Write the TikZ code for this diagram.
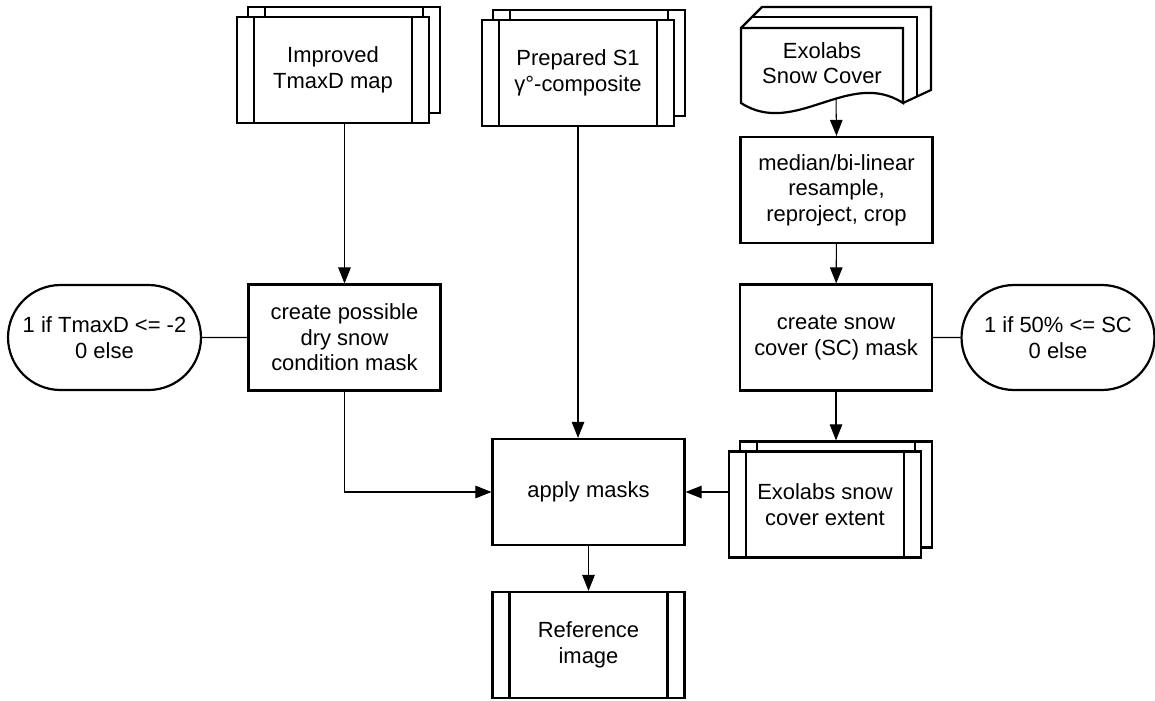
\documentclass[tikz,border=0pt]{standalone}
\usepackage{fontspec}
\setmainfont{Liberation Sans}
\usetikzlibrary{shapes.misc, arrows.meta, calc, positioning}

\tikzset{
    every node/.style={font=\fontsize{12.5}{14.5}\selectfont, align=center},
    box/.style={draw, line width=1.25pt, fill=white, minimum width=3.84cm, minimum height=2.12cm, inner sep=0pt},
    pbox/.style={box, path picture={
        \draw[line width=1.25pt]
            ([xshift=0.34cm]path picture bounding box.north west) -- ([xshift=0.34cm]path picture bounding box.south west)
            ([xshift=-0.34cm]path picture bounding box.north east) -- ([xshift=-0.34cm]path picture bounding box.south east);}},
    cond/.style={draw, line width=1.25pt, rounded rectangle, minimum width=3.86cm, minimum height=2.1cm, inner sep=0pt},
    link/.style={line width=0.6pt},
    arr/.style={link, -{Triangle[length=0.32cm, width=0.25cm]}}
}

\begin{document}
\begin{tikzpicture}[x=0.02cm, y=-0.02cm]
    \useasboundingbox (0,0) rectangle (1155,700);
    \begin{scope}[shift={(0,0)}]
        \node[pbox] (tmaxB) at (344,60) {};
        \node[pbox] (tmax) at (333,70) {Improved\\TmaxD map};
        \node[pbox] (s1B) at (589,63) {};
        \node[pbox] (s1) at (578,73) {Prepared S1\\γ°-composite};

        \draw[line width=1.25pt] (741,28) -- (762,7) -- (931,7) -- (931,90) -- (903,103);
        \draw[line width=1.25pt] (752,17) -- (917,17) -- (917,96.5);
        \draw[line width=1.25pt, fill=white] (741,28) -- (903,28) -- (903,103)
            .. controls (849,68) and (795,138) .. (741,103) -- cycle;
        \node (snowcov) at (822,63) {Exolabs\\Snow Cover};
        \coordinate (snowcovb) at (836,98);

        \node[box] (resamp) at (836.5,190) {median/bi-linear\\resample,\\reproject, crop};
        \node[box] (scmask) at (836,337.5) {create snow\\cover (SC) mask};
        \node[box] (drymask) at (344.5,337.5) {create possible\\dry snow\\condition mask};
        \node[cond] (drycond) at (104.5,337.5) {1 if TmaxD <= -2\\0 else};
        \node[cond] (sccond) at (1058,337.5) {1 if 50\% <= SC\\0 else};

        \node[pbox] (extB) at (836,494.5) {};
        \node[pbox] (ext) at (825,504.5) {Exolabs snow\\cover extent};
        \node[box] (apply) at (588.5,492) {apply masks};
        \node[pbox] (refimg) at (588.5,645) {Reference\\image};

        \draw[arr] (tmax.south -| drymask.north) -- (drymask.north);
        \draw[arr] (s1.south) -- (s1.south |- apply.north);
        \draw[arr] (snowcovb) -- (resamp.north);
        \draw[arr] (resamp) -- (scmask);
        \draw[arr] (scmask) -- (extB);
        \draw[link] (drycond) -- (drymask) (scmask) -- (sccond);
        \draw[arr] (drymask.south) |- (apply.west);
        \draw[arr] (ext.west |- apply.east) -- (apply.east);
        \draw[arr] (apply) -- (refimg);
    \end{scope}
\end{tikzpicture}
\end{document}
